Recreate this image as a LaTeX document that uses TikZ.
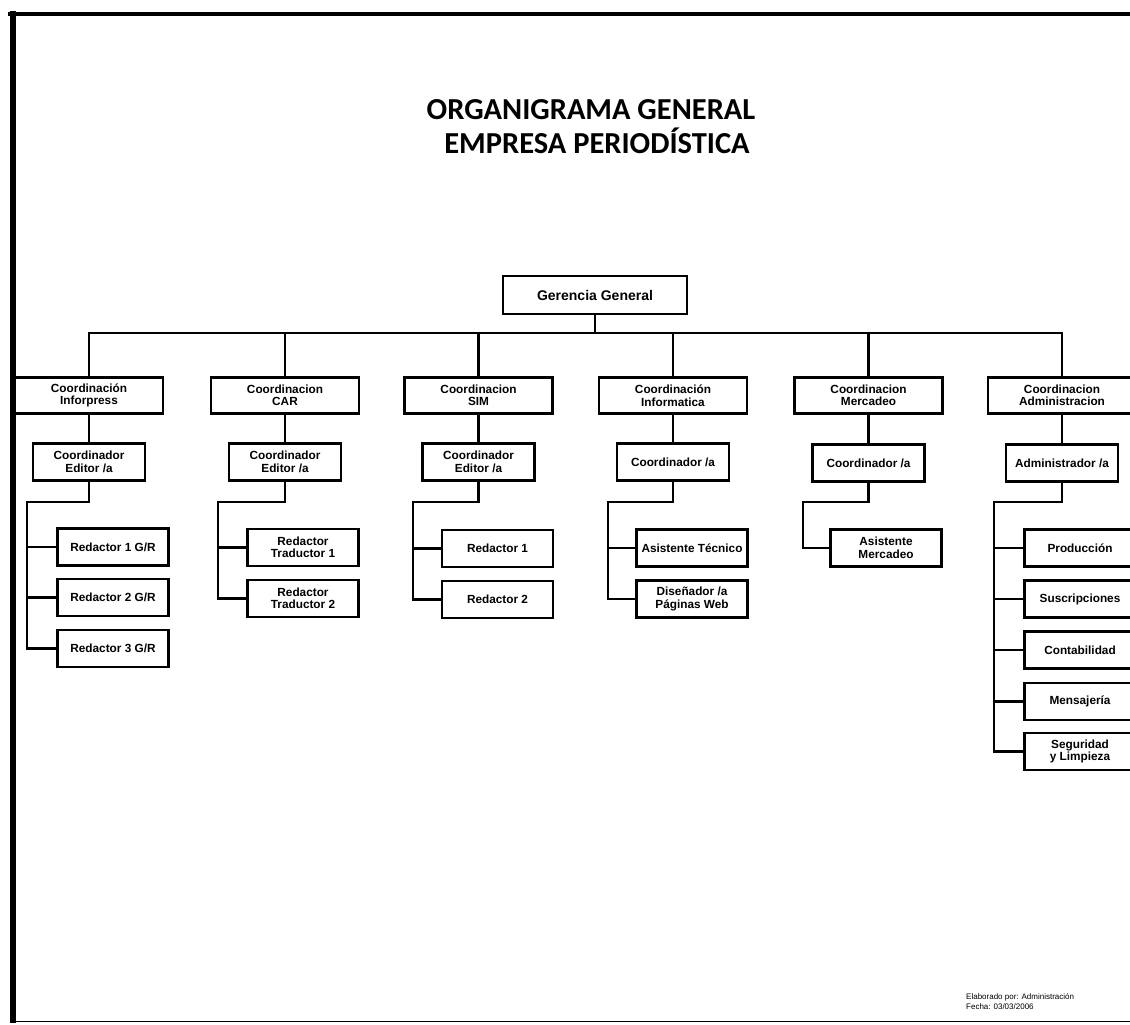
\documentclass[tikz,border=0pt]{standalone}
\usepackage{fontspec}
\setmainfont{Liberation Sans}
\newfontfamily\titlefont{Carlito}
\begin{document}
\begin{tikzpicture}[x=1pt,y=-1pt,
  box/.style={draw=black,line width=2.6pt,fill=white,inner sep=0pt,align=center,
    font=\fontsize{11.8}{12.5}\selectfont\bfseries},
  topbox/.style={box,minimum width=184pt,minimum height=38pt,font=\fontsize{14}{15}\selectfont\bfseries},
  lvone/.style={box,minimum width=148pt,minimum height=36pt},
  lvtwo/.style={box,minimum width=112pt,minimum height=37pt},
  lvthree/.style={box,minimum width=111pt,minimum height=37pt},
  link/.style={draw=black,line width=2.4pt,line cap=rect},
  frame/.style={draw=black,line width=#1},
  heading/.style={anchor=base,font=\titlefont\fontsize{30.5}{32}\selectfont\bfseries}]
\useasboundingbox (0,0) rectangle (1130,1025);
\clip (0,0) rectangle (1130,1025);

% page frame
\draw[frame=4.5pt] (8,14) -- (1130,14);
\draw[frame=6pt] (12.5,11) -- (12.5,1023);
\draw[frame=1.8pt] (12,1021.5) -- (1130,1021.5);

% title
\node[heading] (t1) at (591,119) {ORGANIGRAMA GENERAL};
\node[heading] (t2) at (597,153) {EMPRESA PERIODÍSTICA};

% top
\node[topbox] (g) at (595,295) {Gerencia General};

% first level
\node[lvone] (i1) at (89,395.5) {Coordinación\\Inforpress};
\node[lvone] (c1) at (285,395.5) {Coordinacion\\CAR};
\node[lvone] (s1) at (478.5,395.5) {Coordinacion\\SIM};
\node[lvone] (f1) at (673,395.5) {Coordinación\\Informatica};
\node[lvone] (m1) at (868.5,395.5) {Coordinacion\\Mercadeo};
\node[lvone] (a1) at (1062,395.5) {Coordinacion\\Administracion};

% second level
\node[lvtwo] (i2) at (89,462) {Coordinador\\Editor /a};
\node[lvtwo] (c2) at (285,462) {Coordinador\\Editor /a};
\node[lvtwo] (s2) at (478.5,462) {Coordinador\\Editor /a};
\node[lvtwo] (f2) at (673,462) {Coordinador /a};
\node[lvtwo] (m2) at (868.5,463) {Coordinador /a};
\node[lvtwo] (a2) at (1062,463) {Administrador /a};

% third level
\node[lvthree] (i3a) at (113,547) {Redactor 1 G/R};
\node[lvthree] (i3b) at (113,597.5) {Redactor 2 G/R};
\node[lvthree] (i3c) at (113,648.5) {Redactor 3 G/R};
\node[lvthree] (c3a) at (303,547.5) {Redactor\\Traductor 1};
\node[lvthree] (c3b) at (303,598.5) {Redactor\\Traductor 2};
\node[lvthree] (s3a) at (497.5,548.5) {Redactor 1};
\node[lvthree] (s3b) at (497.5,599.5) {Redactor 2};
\node[lvthree] (f3a) at (692,548) {Asistente Técnico};
\node[lvthree] (f3b) at (692,599) {Diseñador /a\\Páginas Web};
\node[lvthree] (m3a) at (886,548) {Asistente\\Mercadeo};
\node[lvthree] (a3a) at (1080,548) {Producción};
\node[lvthree] (a3b) at (1080,599) {Suscripciones};
\node[lvthree] (a3c) at (1080,650) {Contabilidad};
\node[lvthree] (a3d) at (1080,701.5) {Mensajería};
\node[lvthree] (a3e) at (1080,751.5) {Seguridad\\y Limpieza};

% bus under the top box
\coordinate (bus) at (595,333);
\draw[link] (g.south) -- (g.south |- bus);
\draw[link] (i1.north) |- (a1.north |- bus) -- (a1.north);
\foreach \n in {c1,s1,f1,m1}
  \draw[link] (\n.north) -- (\n.north |- bus);

% first to second level
\foreach \u/\l in {i1/i2,c1/c2,s1/s2,f1/f2,m1/m2,a1/a2}
  \draw[link] (\u.south) -- (\l.north);

% spines to the third level
\coordinate (ispine) at (27,502);
\coordinate (cspine) at (218,502);
\coordinate (sspine) at (413,502);
\coordinate (fspine) at (608,502);
\coordinate (mspine) at (803,502);
\coordinate (aspine) at (994,502);

\draw[link] (i2.south) |- (ispine) |- (i3c.west);
\draw[link] (ispine |- i3a.west) -- (i3a.west);
\draw[link] (ispine |- i3b.west) -- (i3b.west);

\draw[link] (c2.south) |- (cspine) |- (c3b.west);
\draw[link] (cspine |- c3a.west) -- (c3a.west);

\draw[link] (s2.south) |- (sspine) |- (s3b.west);
\draw[link] (sspine |- s3a.west) -- (s3a.west);

\draw[link] (f2.south) |- (fspine) |- (f3b.west);
\draw[link] (fspine |- f3a.west) -- (f3a.west);

\draw[link] (m2.south) |- (mspine) |- (m3a.west);

\draw[link] (a2.south) |- (aspine) |- (a3e.west);
\foreach \n in {a3a,a3b,a3c,a3d}
  \draw[link] (aspine |- \n.west) -- (\n.west);

% footer
\node[anchor=base west,align=left,inner sep=0pt,font=\fontsize{8}{10}\selectfont] (foot) at (966,1009)
  {Elaborado por: Administración\\Fecha: 03/03/2006};
\end{tikzpicture}
\end{document}
